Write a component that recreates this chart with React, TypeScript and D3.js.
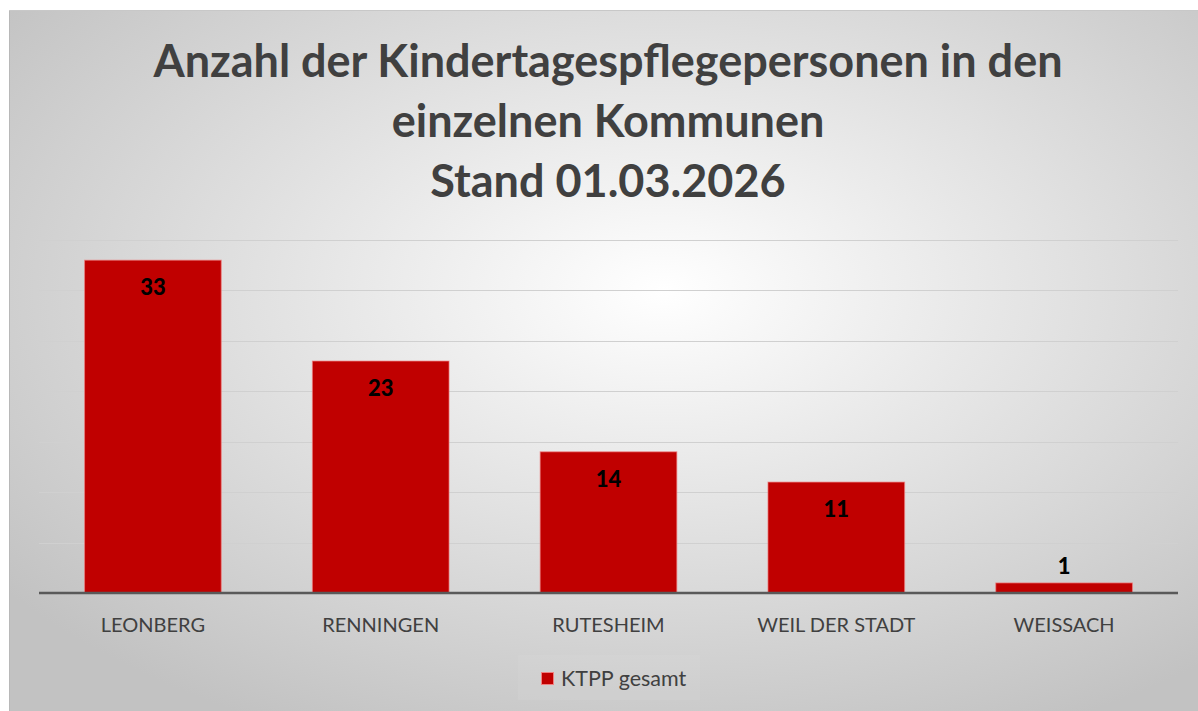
import React from "react";
import * as d3 from "d3";

const categories = ["LEONBERG", "RENNINGEN", "RUTESHEIM", "WEIL DER STADT", "WEISSACH"];
const values = [33, 23, 14, 11, 1];
const yTicks = [0, 5, 10, 15, 20, 25, 30, 35];
const titleLines = [
  "Anzahl der Kindertagespflegepersonen in den",
  "einzelnen Kommunen",
  "Stand 01.03.2026",
];
const seriesName = "KTPP gesamt";

const W = 1198;
const H = 711;
const FONT = "Lato, 'Open Sans', sans-serif";

export default function App() {
  const x = d3.scaleBand<string>().domain(categories).range([39, 1178]).paddingInner(0.4).paddingOuter(0.2);
  const y = d3.scaleLinear().domain([0, 35]).range([593, 240]);

  return (
    <svg width={W} height={H} style={{ position: "absolute", left: 0, top: 0 }}>
      <defs>
        <radialGradient id="bg" cx="55%" cy="40%" r="70%">
          <stop offset="0%" stopColor="#ffffff" />
          <stop offset="100%" stopColor="#c2c2c2" />
        </radialGradient>
      </defs>
      <rect x={0} y={0} width={W} height={H} fill="#ffffff" />
      <rect x={9} y={10} width={W - 9} height={H - 10} fill="url(#bg)" />
      <line x1={9.5} y1={10} x2={9.5} y2={H} stroke="#b8b8b8" strokeWidth={1} />
      <line x1={9} y1={10.5} x2={W} y2={10.5} stroke="#c8c8c8" strokeWidth={1} />

      {titleLines.map((t, i) => (
        <text
          key={i}
          x={608}
          y={77 + i * 60}
          textAnchor="middle"
          fontFamily={FONT}
          fontWeight={700}
          fontSize={45}
          fill="#404040"
        >
          {t}
        </text>
      ))}

      {yTicks.slice(1).map((t) => (
        <line key={t} x1={39} x2={1178} y1={Math.round(y(t)) + 0.5} y2={Math.round(y(t)) + 0.5} stroke="#d0d0d0" strokeWidth={1} />
      ))}

      {categories.map((c, i) => {
        const bx = x(c)!;
        const by = y(values[i]);
        const bh = y(0) - by;
        const inside = bh > 45;
        return (
          <g key={c}>
            <rect x={bx} y={by} width={x.bandwidth()} height={bh} fill="#C00000" stroke="#f08080" strokeOpacity={0.7} strokeWidth={1} />
            <text
              x={bx + x.bandwidth() / 2}
              y={inside ? by + 35 : by - 9}
              textAnchor="middle"
              fontFamily={FONT}
              fontWeight={900}
              fontSize={22}
              fill="#000000"
            >
              {values[i]}
            </text>
            <text
              x={bx + x.bandwidth() / 2}
              y={632}
              textAnchor="middle"
              fontFamily={FONT}
              fontSize={20}
              fill="#404040"
            >
              {c}
            </text>
          </g>
        );
      })}

      <line x1={39} x2={1178} y1={y(0)} y2={y(0)} stroke="#595959" strokeWidth={2.5} />

      <rect x={518} y={655} width={182} height={45} fill="#ffffff" fillOpacity={0.06} />
      <rect x={541.5} y={672.5} width={12} height={12} fill="#C00000" stroke="#f08080" strokeWidth={1} />
      <text x={561} y={686} fontFamily={FONT} fontSize={21.5} fill="#404040">
        {seriesName}
      </text>
    </svg>
  );
}
